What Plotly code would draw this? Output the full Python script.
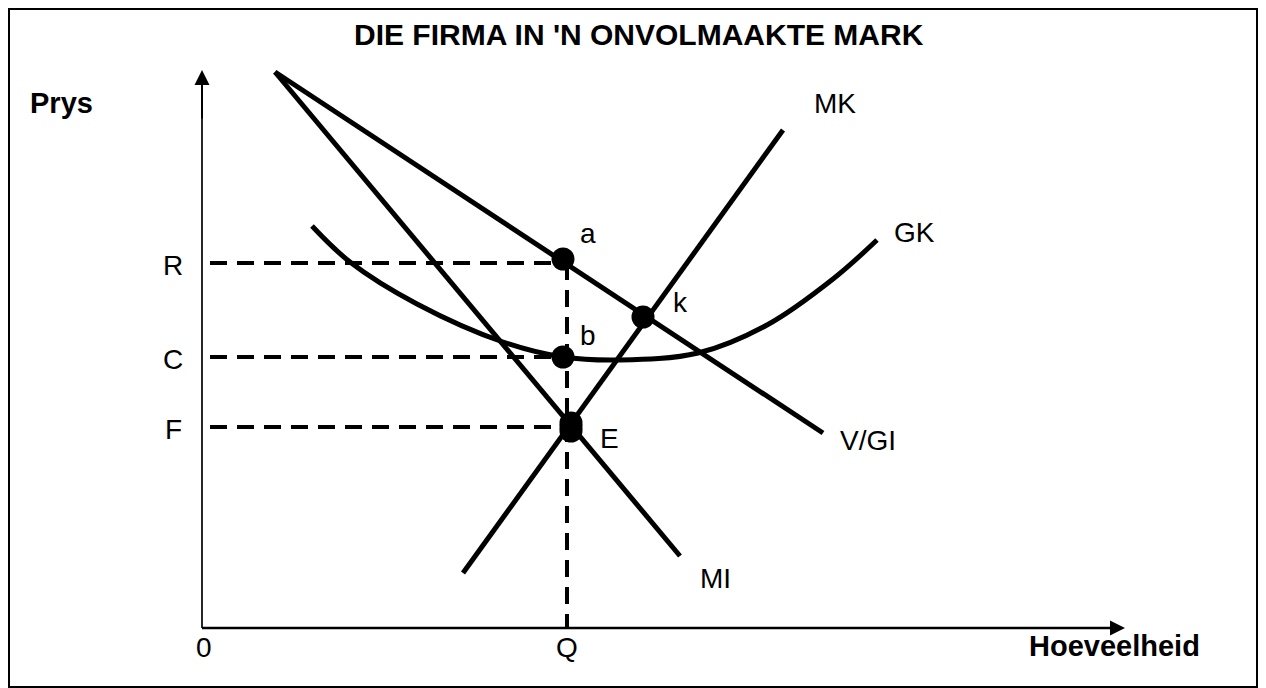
import plotly.graph_objects as go

# ---- values (diagram units) ----
title_text = "DIE FIRMA IN 'N ONVOLMAAKTE MARK"
x_axis_label = "Hoeveelheid"
y_axis_label = "Prys"

x_axis_end = 9.23
y_axis_end = 5.58

# demand / average revenue (V/GI)
vgi_x = [0.73, 6.21]
vgi_y = [5.56, 1.95]
# marginal revenue (MI)
mi_x = [0.73, 4.78]
mi_y = [5.56, 0.72]
# marginal cost (MK)
mk_x = [2.61, 5.81]
mk_y = [0.55, 4.98]
# average cost (GK)
gk_x = [1.10, 1.48, 2.15, 3.01, 3.61, 4.18, 4.96, 5.65, 6.31, 6.75]
gk_y = [4.02, 3.66, 3.24, 2.86, 2.71, 2.68, 2.75, 3.03, 3.49, 3.88]

q_value = 3.65
level_names = ["R", "C", "F"]
level_values = [3.65, 2.71, 2.01]

point_names = ["a", "b", "E", "k"]
point_x = [3.61, 3.61, 3.69, 4.41]
point_y = [3.69, 2.71, 2.01, 3.11]

curve_names = ["MK", "GK", "V/GI", "MI"]
curve_label_x = [6.10, 6.90, 6.36, 4.96]
curve_label_y = [5.25, 3.96, 1.88, 0.50]

FONT = "Liberation Sans, Arial, sans-serif"
BLACK = "#000000"

fig = go.Figure()

# dashed guide lines
for lv, px in zip(level_values, [point_x[0], point_x[1], point_x[2]]):
    fig.add_trace(go.Scatter(x=[0.08, px], y=[lv, lv], mode="lines",
                             line=dict(color=BLACK, width=4, dash="17px,10px"),
                             hoverinfo="skip"))
fig.add_trace(go.Scatter(x=[q_value, q_value], y=[level_values[0], 0], mode="lines",
                         line=dict(color=BLACK, width=4, dash="17px,10px"),
                         hoverinfo="skip"))

# curves
for xs, ys in [(vgi_x, vgi_y), (mi_x, mi_y), (mk_x, mk_y)]:
    fig.add_trace(go.Scatter(x=xs, y=ys, mode="lines",
                             line=dict(color=BLACK, width=5), hoverinfo="skip"))
fig.add_trace(go.Scatter(x=gk_x, y=gk_y, mode="lines",
                         line=dict(color=BLACK, width=5, shape="spline", smoothing=1.0),
                         hoverinfo="skip"))

# axes lines
fig.add_trace(go.Scatter(x=[0, 0], y=[0, y_axis_end - 0.1], mode="lines",
                         line=dict(color=BLACK, width=1.7), hoverinfo="skip"))
fig.add_trace(go.Scatter(x=[0, x_axis_end - 0.1], y=[0, 0], mode="lines",
                         line=dict(color=BLACK, width=2.5), hoverinfo="skip"))

# points
fig.add_trace(go.Scatter(x=point_x, y=point_y, mode="markers",
                         marker=dict(color=BLACK, size=23, line=dict(width=0)),
                         hoverinfo="skip"))
# E is drawn as a slightly elongated blob
fig.add_trace(go.Scatter(x=[point_x[2], point_x[2]], y=[point_y[2] + 0.04, point_y[2] - 0.04],
                         mode="markers", marker=dict(color=BLACK, size=23, line=dict(width=0)),
                         hoverinfo="skip"))

annotations = []
# arrowheads of the axes
annotations.append(dict(x=0, y=y_axis_end, ax=0, ay=y_axis_end - 0.5, xref="x", yref="y",
                        axref="x", ayref="y", text="", showarrow=True, arrowhead=2,
                        arrowsize=1.5, arrowwidth=2, arrowcolor=BLACK))
annotations.append(dict(x=x_axis_end, y=0, ax=x_axis_end - 0.5, ay=0, xref="x", yref="y",
                        axref="x", ayref="y", text="", showarrow=True, arrowhead=2,
                        arrowsize=1.5, arrowwidth=2, arrowcolor=BLACK))

def label(x, y, text, size=28, bold=False, xanchor="center"):
    annotations.append(dict(x=x, y=y, xref="x", yref="y", text=("<b>%s</b>" % text) if bold else text,
                            showarrow=False, xanchor=xanchor, yanchor="middle",
                            font=dict(family=FONT, size=size, color=BLACK)))

label(4.37, 5.94, title_text, size=30, bold=True)
label(-1.74, 5.25, y_axis_label, size=29, bold=True, xanchor="left")
label(8.25, -0.18, x_axis_label, size=29, bold=True, xanchor="left")
label(0.02, -0.19, "0")
label(q_value, -0.19, "Q")
for name, lv in zip(level_names, level_values):
    label(-0.29, lv - 0.02, name)
point_label_dx = [0.25, 0.25, 0.38, 0.37]
point_label_dy = [0.26, 0.22, -0.11, 0.15]
for name, px, py, dx, dy in zip(point_names, point_x, point_y, point_label_dx, point_label_dy):
    label(px + dx, py + dy, name)
for name, lx, ly in zip(curve_names, curve_label_x, curve_label_y):
    label(lx, ly, name, xanchor="left")

# outer frame
shapes = [dict(type="rect", xref="x", yref="y", x0=-1.93, x1=10.55, y0=-0.59, y1=6.19,
               line=dict(color=BLACK, width=2), fillcolor="rgba(0,0,0,0)", layer="below")]

fig.update_layout(
    width=1258, height=680,
    margin=dict(l=0, r=0, t=0, b=0),
    paper_bgcolor="white", plot_bgcolor="white",
    showlegend=False,
    xaxis=dict(range=[-1.94, 10.64], visible=False, fixedrange=True),
    yaxis=dict(range=[-0.60, 6.20], visible=False, fixedrange=True),
    annotations=annotations,
    shapes=shapes,
)

fig.write_html("out.html", config={"displayModeBar": False})
